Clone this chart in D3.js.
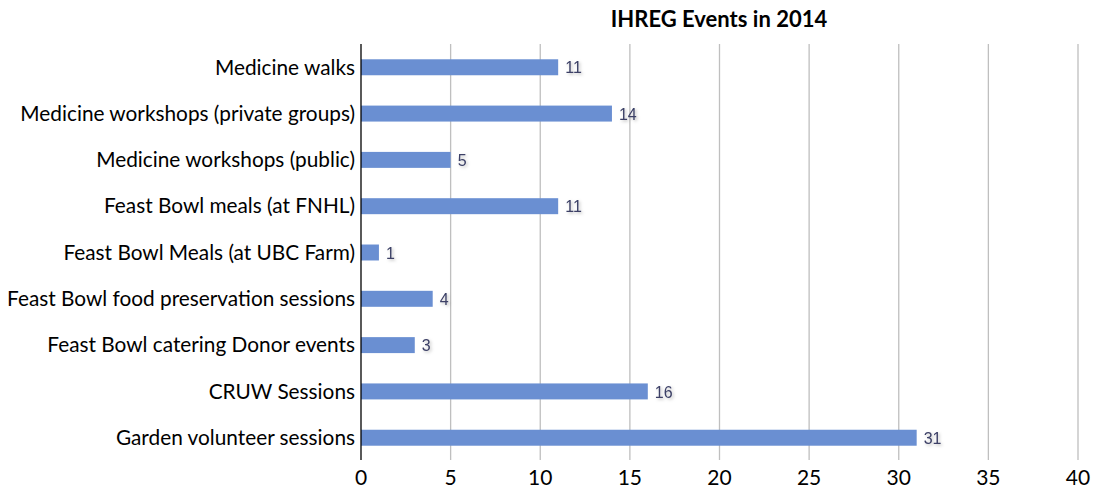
<!DOCTYPE html>
<html><head><meta charset="utf-8">
<script src="https://cdn.jsdelivr.net/npm/d3@7"></script>
<style>body{margin:0;background:#fff}</style>
</head><body>
<svg id="c" width="1094" height="489"></svg>
<script>
const categories = ["Medicine walks","Medicine workshops (private groups)","Medicine workshops (public)","Feast Bowl meals (at FNHL)","Feast Bowl Meals (at UBC Farm)","Feast Bowl food preservation sessions","Feast Bowl catering Donor events","CRUW Sessions","Garden volunteer sessions"];
const values = [11,14,5,11,1,4,3,16,31];
const xTicks = [0,5,10,15,20,25,30,35,40];
const title = "IHREG Events in 2014";

const svg = d3.select("#c");
const m = {l:361, r:1078, t:44, b:461};
const x = d3.scaleLinear().domain([0,40]).range([m.l, m.r]);
const y = d3.scaleBand().domain(categories).range([m.t, m.b]).paddingInner(0.655).paddingOuter(0.33);

const defs = svg.append("defs");
const f = defs.append("filter").attr("id","sh").attr("x","-20%").attr("y","-20%").attr("width","160%").attr("height","160%");
f.append("feDropShadow").attr("dx",1.5).attr("dy",1.5).attr("stdDeviation",1.5).attr("flood-color","#000").attr("flood-opacity",0.25);

// gridlines
svg.append("g").selectAll("line").data(xTicks.slice(1)).join("line")
  .attr("x1",d=>x(d)).attr("x2",d=>x(d)).attr("y1",m.t).attr("y2",460)
  .attr("stroke","#bfbfbf").attr("stroke-width",1.3);

// bars
svg.append("g").selectAll("rect").data(values).join("rect")
  .attr("x",x(0)).attr("y",(d,i)=>y(categories[i]))
  .attr("width",d=>x(d)-x(0)).attr("height",y.bandwidth())
  .attr("fill","#6a8fd2");

// axis line
svg.append("line").attr("x1",x(0)).attr("x2",x(0)).attr("y1",m.t).attr("y2",460)
  .attr("stroke","#000").attr("stroke-width",1.3);

// value labels
svg.append("g").selectAll("text").data(values).join("text")
  .attr("x",d=>x(d)+7).attr("y",(d,i)=>y(categories[i])+y.bandwidth()/2)
  .attr("dy","0.38em").attr("font-family","Liberation Sans, Arial, sans-serif")
  .attr("font-size",16).attr("fill","#3c4066").attr("filter","url(#sh)")
  .text(d=>d);

// category labels
svg.append("g").selectAll("text").data(categories).join("text")
  .attr("x",355).attr("y",d=>y(d)+y.bandwidth()/2).attr("dy","0.35em")
  .attr("text-anchor","end").attr("font-family","Lato, sans-serif")
  .attr("font-size",20.8).attr("fill","#000").text(d=>d);

// x tick labels
svg.append("g").selectAll("text").data(xTicks).join("text")
  .attr("x",d=>x(d)).attr("y",478).attr("dy","0.35em").attr("text-anchor","middle")
  .attr("font-family","Lato, sans-serif").attr("font-size",21).attr("fill","#000").text(d=>d);

// title
svg.append("text").attr("x",719).attr("y",19).attr("dy","0.35em").attr("text-anchor","middle")
  .attr("font-family","Lato, sans-serif").attr("font-weight","bold").attr("font-size",22)
  .attr("fill","#000").text(title);
</script>
</body></html>
